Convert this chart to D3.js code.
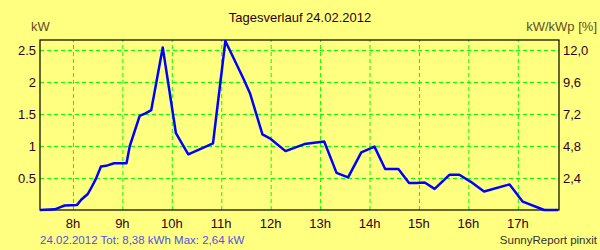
<html><head>
<script src="https://d3js.org/d3.v7.min.js"></script>
<style>
  body { margin: 0; background: #FFFF80; }
  text { font-family: 'Liberation Sans', Arial, sans-serif; }
  .grid line { stroke: #00FF00; stroke-dasharray: 4,3; }
  .grid path { display: none; }
</style>
</head>
<body>
<script>
// Power curve, 24.02.2012 (time of day, kW)
const times = ["7:20","7:38","7:44","7:50","7:58","8:05","8:10","8:18","8:22","8:28","8:34","8:40","8:50",
               "9:05","9:09","9:21","9:28","9:35","9:49","10:05","10:20","10:50","11:05","11:27","11:35",
               "11:50","11:59","12:18","12:41","13:05","13:20","13:34","13:50","14:06","14:19","14:35",
               "14:48","14:57","15:07","15:19","15:37","15:49","16:03","16:19","16:50","17:06","17:32","17:49"]
const power = [0, 0.01, 0.04, 0.07, 0.075, 0.08, 0.16, 0.25, 0.34, 0.49, 0.68, 0.69, 0.73,
               0.73, 1.0, 1.47, 1.51, 1.56, 2.54, 1.20, 0.87, 1.04, 2.64, 2.05, 1.82,
               1.18, 1.12, 0.92, 1.03, 1.07, 0.58, 0.51, 0.90, 0.99, 0.64, 0.64,
               0.42, 0.42, 0.43, 0.33, 0.55, 0.55, 0.44, 0.29, 0.40, 0.13, 0, 0]
const hourTicks = [8, 9, 10, 11, 12, 13, 14, 15, 16, 17]
const kwTicks = [0.5, 1, 1.5, 2, 2.5]
const pctTicks = ["2,4", "4,8", "7,2", "9,6", "12,0"]

const hours = times.map(t => { const p = t.split(":"); return +p[0] + p[1] / 60 })
const data = hours.map((h, i) => ({h: h, kw: power[i]}))

const svg = d3.select("body").append("svg").attr("width", 600).attr("height", 250)
svg.append("rect").attr("width", 600).attr("height", 250).attr("fill", "#FFFF80")

const margin = {top: 40, left: 40, right: 41, bottom: 40}
const chartWidth = 600 - margin.left - margin.right
const chartHeight = 250 - margin.top - margin.bottom

const xScale = d3.scaleLinear().domain([7 + 20 / 60, 17 + 50 / 60]).range([0, chartWidth])
const yScale = d3.scaleLinear().domain([0, 2.656]).range([chartHeight, 0])
const pctScale = d3.scaleLinear().domain([0, 2.656 * 4.8]).range([chartHeight, 0])

const chart = svg.append("g").attr("transform", `translate(${margin.left},${margin.top})`)

// gridlines
chart.append("g").attr("class", "grid")
     .call(d3.axisLeft(yScale).tickValues(kwTicks).tickSize(-chartWidth).tickFormat(""))
chart.append("g").attr("class", "grid")
     .attr("transform", `translate(0,${chartHeight})`)
     .call(d3.axisBottom(xScale).tickValues(hourTicks).tickSize(-chartHeight).tickFormat(""))

// tick labels
chart.append("g").selectAll("text").data(kwTicks).join("text")
     .attr("x", -4).attr("y", d => yScale(d) + 5)
     .attr("text-anchor", "end").attr("font-size", 13).attr("fill", "#300020")
     .text(d => d)
chart.append("g").selectAll("text").data(pctTicks).join("text")
     .attr("x", chartWidth + 4).attr("y", d => pctScale(+d.replace(",", ".")) + 5)
     .attr("font-size", 13).attr("fill", "#300020")
     .text(d => d)
chart.append("g").selectAll("text").data(hourTicks).join("text")
     .attr("x", d => xScale(d)).attr("y", chartHeight + 18)
     .attr("text-anchor", "middle").attr("font-size", 13).attr("fill", "#300020")
     .text(d => d + "h")

// frame
chart.append("rect").attr("width", chartWidth).attr("height", chartHeight)
     .attr("fill", "none").attr("stroke", "#000").attr("stroke-width", 1.2)

// line
const line = d3.line().x(d => xScale(d.h)).y(d => yScale(d.kw))
chart.append("path").datum(data).attr("d", line)
     .attr("fill", "none").attr("stroke", "#0000FF").attr("stroke-width", 2.5)
     .attr("stroke-linejoin", "round")

// labels
svg.append("text").attr("x", 300).attr("y", 22).attr("text-anchor", "middle")
   .attr("font-size", 13).attr("fill", "#300010").text("Tagesverlauf 24.02.2012")
svg.append("text").attr("x", 31).attr("y", 31)
   .attr("font-size", 13).attr("fill", "#605020").text("kW")
svg.append("text").attr("x", 597).attr("y", 31).attr("text-anchor", "end")
   .attr("font-size", 13).attr("fill", "#605020").text("kW/kWp [%]")
svg.append("text").attr("x", 40).attr("y", 244)
   .attr("font-size", 11.5).attr("fill", "#5050E8").text("24.02.2012 Tot: 8,38 kWh Max: 2,64 kW")
svg.append("text").attr("x", 597).attr("y", 244).attr("text-anchor", "end")
   .attr("font-size", 11.5).attr("fill", "#303030").text("SunnyReport pinxit")
</script>
</body></html>
